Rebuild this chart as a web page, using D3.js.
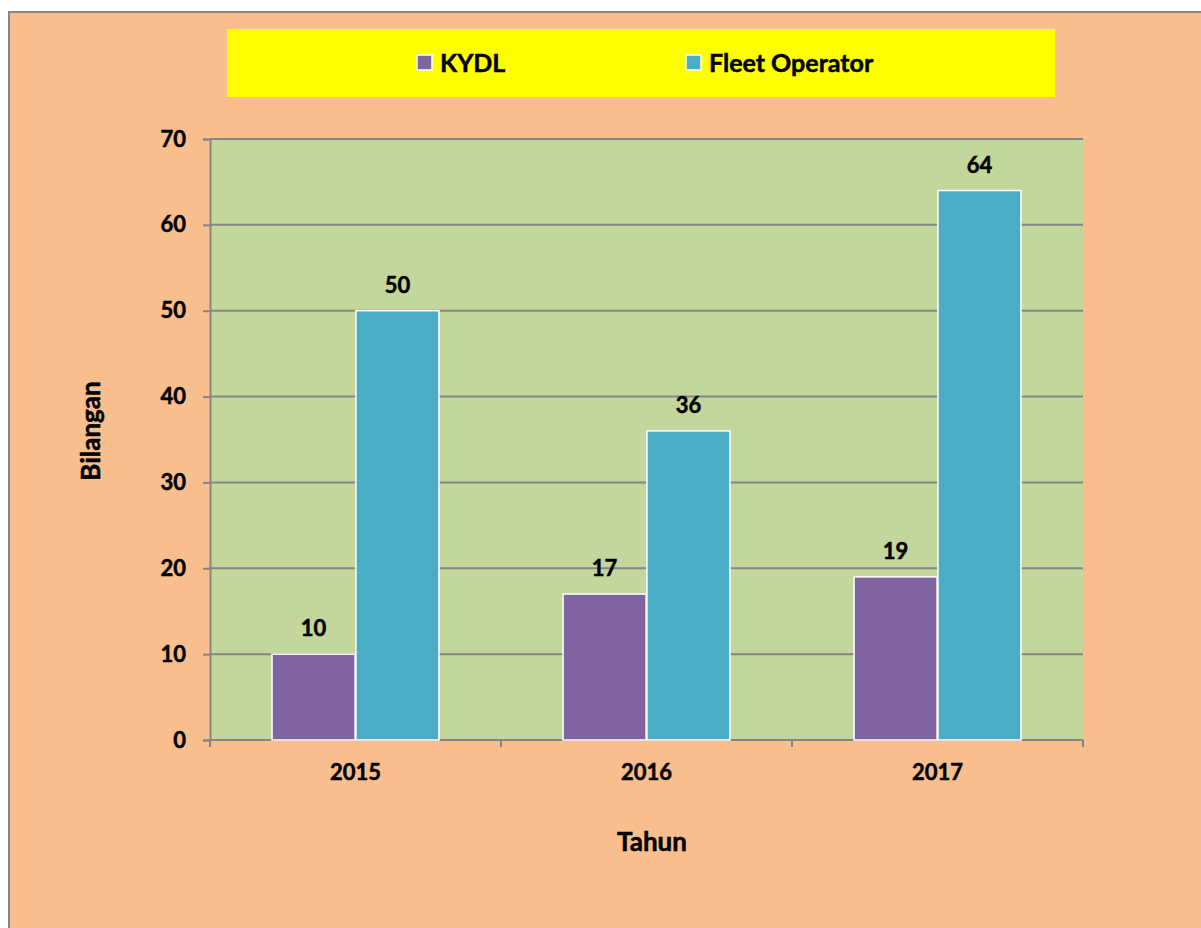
<!DOCTYPE html>
<html><head><meta charset="utf-8">
<script src="https://cdn.jsdelivr.net/npm/d3@7"></script>
<style>html,body{margin:0;padding:0;background:#fff;overflow:hidden}
text{stroke:#000;stroke-width:0.5px}</style>
</head><body>
<svg id="c" width="1201" height="928"></svg>
<script>
const categories = ["2015", "2016", "2017"];
const seriesNames = ["KYDL", "Fleet Operator"];
const kydl = [10, 17, 19];
const fleet = [50, 36, 64];
const yTicks = [0, 10, 20, 30, 40, 50, 60, 70];
const colors = ["#8064A2", "#4BACC6"];

const svg = d3.select("#c");
const font = "Lato, 'Open Sans', sans-serif";

// chart background
svg.append("rect").attr("x", 9).attr("y", 12).attr("width", 1300).attr("height", 1000)
  .attr("fill", "#F8BE8E").attr("stroke", "#868686").attr("stroke-width", 2);

const L = 210, R = 1083, T = 139, B = 740;
const x0 = d3.scaleBand().domain(categories).range([L, R]).paddingInner(0).paddingOuter(0);
const x1 = d3.scaleBand().domain(seriesNames).range([0, x0.bandwidth()]).paddingInner(0.01).paddingOuter(0.74);
const y = d3.scaleLinear().domain([0, 70]).range([B, T]);

// plot area
svg.append("rect").attr("x", L).attr("y", T).attr("width", R - L).attr("height", B - T).attr("fill", "#C3D69B");

// gridlines
svg.append("g").selectAll("line").data(yTicks.filter(d => d > 0)).join("line")
  .attr("x1", L).attr("x2", R).attr("y1", d => y(d)).attr("y2", d => y(d))
  .attr("stroke", "#868686").attr("stroke-width", 2);

// y axis
const ya = svg.append("g").attr("transform", `translate(${L},0)`)
  .call(d3.axisLeft(y).tickValues(yTicks).tickSize(7).tickPadding(17));
ya.select(".domain").attr("stroke", "#868686").attr("stroke-width", 2);
ya.selectAll(".tick line").attr("stroke", "#868686").attr("stroke-width", 2);
ya.selectAll(".tick text").attr("font-family", font).attr("font-weight", "bold")
  .attr("font-size", 22).attr("fill", "#000");

// x axis
const xa = svg.append("g").attr("transform", `translate(0,${B})`)
  .call(d3.axisBottom(x0).tickSize(0).tickPadding(24));
xa.select(".domain").attr("stroke", "#868686").attr("stroke-width", 2).attr("d", `M${L},0H${R}`);
xa.selectAll(".tick text").attr("font-family", font).attr("font-weight", "bold")
  .attr("font-size", 22).attr("fill", "#000");
svg.append("g").selectAll("line").data(d3.range(categories.length + 1)).join("line")
  .attr("x1", i => L + i * x0.step()).attr("x2", i => L + i * x0.step())
  .attr("y1", B).attr("y2", B + 7).attr("stroke", "#868686").attr("stroke-width", 2);

// bars
const rows = categories.map((c, i) => ({ c, vals: [kydl[i], fleet[i]] }));
const g = svg.append("g").selectAll("g").data(rows).join("g")
  .attr("transform", d => `translate(${x0(d.c)},0)`);
g.selectAll("rect").data(d => d.vals.map((v, j) => ({ s: seriesNames[j], v, j }))).join("rect")
  .attr("x", d => x1(d.s)).attr("y", d => y(d.v))
  .attr("width", x1.bandwidth()).attr("height", d => B - y(d.v))
  .attr("fill", d => colors[d.j]).attr("stroke", "#fff").attr("stroke-width", 1.5);
g.selectAll("text").data(d => d.vals.map((v, j) => ({ s: seriesNames[j], v, j }))).join("text")
  .attr("x", d => x1(d.s) + x1.bandwidth() / 2).attr("y", d => y(d.v) - 18)
  .attr("text-anchor", "middle").attr("font-family", font).attr("font-weight", "bold")
  .attr("font-size", 22).attr("fill", "#000").text(d => d.v);

// axis titles
svg.append("text").attr("x", 652).attr("y", 851).attr("text-anchor", "middle")
  .attr("font-family", font).attr("font-weight", "bold").attr("font-size", 26).text("Tahun");
svg.append("text").attr("transform", "translate(100,431) rotate(-90)").attr("text-anchor", "middle")
  .attr("font-family", font).attr("font-weight", "bold").attr("font-size", 26).text("Bilangan");

// legend
svg.append("rect").attr("x", 227).attr("y", 29).attr("width", 828).attr("height", 68).attr("fill", "#FFFF00")
  .style("stroke", "none");
const legX = [417, 686];
const lg = svg.append("g").selectAll("g").data(seriesNames).join("g")
  .attr("transform", (d, i) => `translate(${legX[i]},55)`);
lg.append("rect").attr("width", 15).attr("height", 15).attr("fill", (d, i) => colors[i])
  .attr("stroke", "#fff").attr("stroke-width", 1.5);
lg.append("text").attr("x", 23).attr("y", 17).attr("font-family", font).attr("font-weight", "bold")
  .attr("font-size", 25).attr("fill", "#000").text(d => d);
</script>
</body></html>
